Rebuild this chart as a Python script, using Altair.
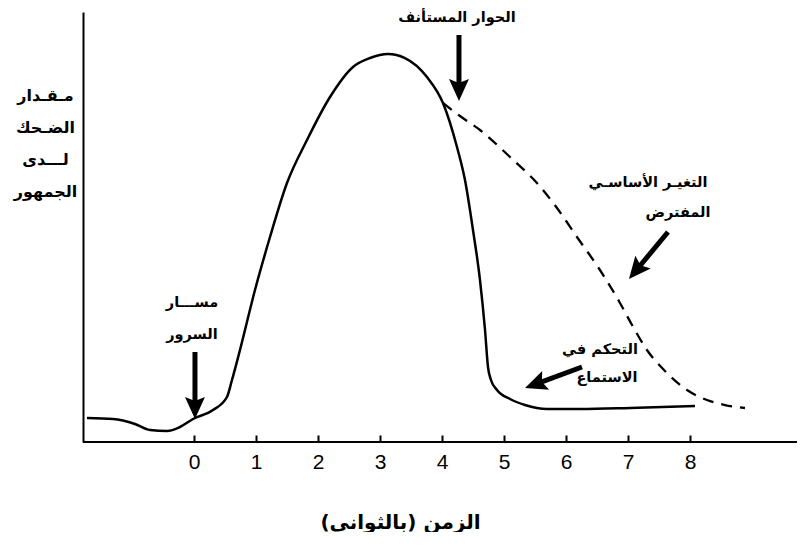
import altair as alt
import pandas as pd

# ---- data (x in seconds, y in arbitrary laughter units 0-100) ----
solid_x = [-1.726, -1.306, -0.952, -0.710, -0.435, -0.226, -0.016, 0.306, 0.532, 0.613,
           0.742, 0.984, 1.226, 1.500, 1.823, 2.194, 2.565, 2.839, 3.129, 3.403,
           3.758, 4.016, 4.242, 4.371, 4.500, 4.613, 4.694, 4.742, 4.790, 4.887,
           5.097, 5.339, 5.694, 6.226, 7.032, 8.081]
solid_y = [5.58, 5.35, 4.19, 2.79, 2.56, 3.49, 5.35, 7.44, 10.47, 14.42,
           21.40, 35.35, 47.67, 60.23, 70.23, 80.23, 87.21, 89.30, 90.23, 89.30,
           84.88, 78.84, 68.60, 60.93, 49.30, 37.67, 26.05, 17.44, 14.42, 12.09,
           10.00, 8.60, 7.67, 7.67, 7.91, 8.37]

dash_x = [4.016, 4.290, 4.613, 5.097, 5.532, 5.855, 6.177, 6.548, 6.871, 7.065,
          7.306, 7.629, 7.952, 8.274, 8.565, 8.887]
dash_y = [78.84, 75.81, 72.56, 66.28, 60.23, 54.42, 47.67, 40.00, 32.33, 27.21,
          21.40, 16.05, 12.09, 9.77, 8.60, 7.91]

tick_values = [0, 1, 2, 3, 4, 5, 6, 7, 8]

# arrows: tail, neck (end of shaft), tip, head rotation
arrow_tail_x = [4.274, 0.016, 7.645, 6.258]
arrow_tail_y = [94.65, 20.93, 48.84, 17.44]
arrow_neck_x = [4.274, 0.016, 7.171, 5.566]
arrow_neck_y = [82.79, 8.84, 40.58, 13.77]
arrow_tip_x = [4.274, 0.016, 7.016, 5.339]
arrow_tip_y = [79.30, 5.35, 37.91, 12.56]
arrow_angle = [0, 0, 39.7, 69.8]

note_text = ["الحوار المستأنف", "مســـار", "السرور", "التغيـر الأساسـي", "المفترض",
             "التحكم في", "الاستماع"]
note_x = [4.242, -0.032, -0.032, 7.323, 7.806, 6.548, 6.661]
note_y = [98.6, 32.3, 24.9, 60.2, 53.3, 21.4, 14.9]

y_title_lines = ["مـقـدار", "الضـحك", "لـــدى", "الجمهور"]
x_title = "الزمن (بالثواني)"

X_DOMAIN = [-1.79, 9.726]
Y_DOMAIN = [0, 100]

solid_df = pd.DataFrame({"x": solid_x, "y": solid_y})
dash_df = pd.DataFrame({"x": dash_x, "y": dash_y})
arrow_df = pd.DataFrame({
    "tx": arrow_tail_x, "ty": arrow_tail_y,
    "nx": arrow_neck_x, "ny": arrow_neck_y,
    "px": arrow_tip_x, "py": arrow_tip_y,
    "angle": arrow_angle,
})
note_df = pd.DataFrame({"x": note_x, "y": note_y, "label": note_text})

xs = alt.Scale(domain=X_DOMAIN, nice=False, zero=False)
ys = alt.Scale(domain=Y_DOMAIN, nice=False, zero=False)

# x axis lifted 7px into the plot so its (downward) ticks stand on the baseline
x_axis = alt.Axis(
    values=tick_values, format="d", offset=-7, domain=False,
    ticks=True, tickSize=7, tickWidth=2, tickColor="black", grid=False,
    labelFont="Liberation Sans", labelFontSize=21, labelColor="black", labelPadding=9,
    title=x_title, titleFont="DejaVu Sans", titleFontWeight="bold", titleFontSize=20,
    titleColor="black", titleX=317, titleY=87, titleAlign="center", titleBaseline="middle",
    titleAnchor="start",
)
y_axis = alt.Axis(
    labels=False, ticks=False, grid=False, domainColor="black", domainWidth=2,
    title=y_title_lines, titleFont="DejaVu Sans", titleFontWeight="bold", titleFontSize=16,
    titleColor="black", titleAngle=0, titleX=-38, titleY=75, titleAlign="center",
    titleBaseline="top", titleLineHeight=32, titleAnchor="start",
)

solid = alt.Chart(solid_df).mark_line(
    color="black", strokeWidth=2.5, interpolate="monotone"
).encode(
    x=alt.X("x:Q", scale=xs, axis=x_axis),
    y=alt.Y("y:Q", scale=ys, axis=y_axis),
)

dashed = alt.Chart(dash_df).mark_line(
    color="black", strokeWidth=2.3, strokeDash=[11, 8], interpolate="monotone"
).encode(x=alt.X("x:Q", scale=xs), y=alt.Y("y:Q", scale=ys))

# baseline (x-axis line) at y = 0
baseline = alt.Chart(solid_df).mark_rule(color="black", strokeWidth=2).encode(
    y=alt.Y(datum=0, scale=ys)
)

shafts = alt.Chart(arrow_df).mark_rule(color="black", strokeWidth=5).encode(
    x=alt.X("tx:Q", scale=xs), y=alt.Y("ty:Q", scale=ys), x2="nx:Q", y2="ny:Q"
)

heads = alt.Chart(arrow_df).mark_point(
    shape="M0,0L-1,-2.2L0,-1.8L1,-2.2Z", filled=True, color="black", opacity=1,
    size=400, strokeWidth=0
).encode(
    x=alt.X("px:Q", scale=xs), y=alt.Y("py:Q", scale=ys),
    angle=alt.Angle("angle:Q", scale=None),
)

notes = alt.Chart(note_df).mark_text(
    font="DejaVu Sans", fontWeight="bold", fontSize=14.5, color="black",
    align="center", baseline="middle"
).encode(x=alt.X("x:Q", scale=xs), y=alt.Y("y:Q", scale=ys), text="label:N")

chart = alt.layer(solid, dashed, baseline, shafts, heads, notes).properties(
    width=714, height=430,
    padding={"left": 75, "top": 4, "right": 0, "bottom": 90},
    autosize=alt.AutoSizeParams(type="none"),
    background="white",
).configure_view(stroke=None)

chart.save("out.html", embed_options={"renderer": "svg", "actions": False})
